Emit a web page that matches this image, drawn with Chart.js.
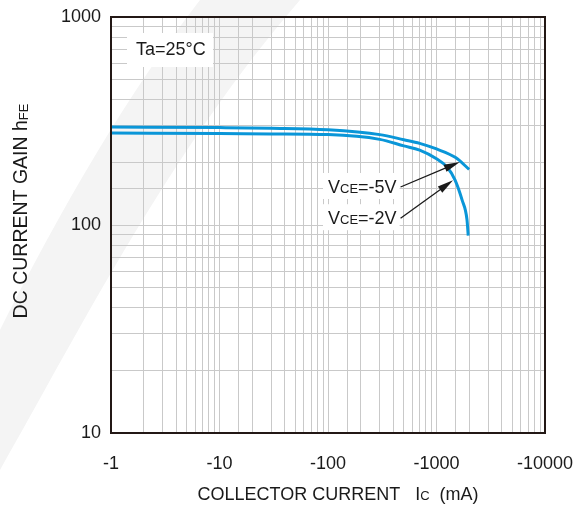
<!DOCTYPE html>
<html>
<head>
<meta charset="utf-8">
<script src="https://cdn.jsdelivr.net/npm/chart.js@4"></script>
<style>
  html, body { margin: 0; padding: 0; background: #fff; }
  #wrap { width: 579px; height: 506px; position: relative; }
</style>
</head>
<body>
<div id="wrap"><canvas id="hfeChart"></canvas></div>
<script>
// collector current magnitude (mA), axis shows them as negative
const ic5 = [1, 10, 30, 100, 300, 500, 700, 1000, 1500, 2000];
const hfe5 = [296, 294, 292, 287, 272, 257, 247, 232, 211, 185];
const ic2 = [1, 10, 30, 100, 300, 500, 700, 1000, 1250, 1480, 1720, 1910, 1960];
const hfe2 = [277, 275, 274, 272, 258, 240, 229, 208, 190, 165, 132, 106, 89];

const xDecades = [1, 10, 100, 1000, 10000];
const yDecades = [10, 100, 1000];

// label anchors in data units: [Ic, hFE] of text start, [Ic, hFE] of arrow tip
const labels = [
  { main: "V", sub: "CE", tail: "=-5V", at: [100, 154], tip: [1640, 201] },
  { main: "V", sub: "CE", tail: "=-2V", at: [100, 109], tip: [1420, 164] },
];

const ink = "#231815";
const blue = "#0a96d8";
const font = "'Liberation Sans', Arial, sans-serif";

const isDecade = (v, list) => list.some((d) => Math.abs(v - d) < d * 1e-6);

const pairs = (xs, ys) => xs.map((x, i) => ({ x: x, y: ys[i] }));

// draw runs of [text, size, dy] left to right
function runs(c, parts, x, y) {
  parts.forEach((p) => {
    c.font = p[1] + "px " + font;
    c.fillText(p[0], x, y + (p[2] || 0));
    x += c.measureText(p[0]).width;
  });
  return x;
}
function runsWidth(c, parts) {
  let w = 0;
  parts.forEach((p) => { c.font = p[1] + "px " + font; w += c.measureText(p[0]).width; });
  return w;
}

const decor = {
  id: "decor",
  beforeDraw(chart) {
    const c = chart.ctx;
    // faint watermark swoosh
    c.save();
    c.fillStyle = "#f4f4f4";
    c.beginPath();
    c.moveTo(200, 0);
    c.lineTo(300, 0);
    c.bezierCurveTo(170, 150, 80, 330, 0, 470);
    c.lineTo(0, 330);
    c.bezierCurveTo(60, 210, 130, 90, 200, 0);
    c.fill();
    c.restore();
  },
  afterDraw(chart) {
    const c = chart.ctx;
    const a = chart.chartArea;
    const xs = chart.scales.x;
    const ys = chart.scales.y;
    c.save();

    // frame
    c.strokeStyle = ink;
    c.lineWidth = 2;
    c.strokeRect(a.left, a.top, a.right - a.left, a.bottom - a.top);

    // Ta box
    c.fillStyle = "#fff";
    c.fillRect(a.left + 16, a.top + 16, 86, 34);
    c.fillStyle = "#1a1a1a";
    c.font = "18px " + font;
    c.textBaseline = "middle";
    c.textAlign = "left";
    c.fillText("Ta=25°C", a.left + 25, a.top + 33);

    // curve labels with arrows
    c.textBaseline = "alphabetic";
    labels.forEach((l) => {
      const tx = xs.getPixelForValue(l.at[0]);
      const ty = ys.getPixelForValue(l.at[1]);
      const parts = [[l.main, 18], [l.sub, 13], [l.tail, 18]];
      c.fillStyle = "#fff";
      c.fillRect(tx - 5, ty - 13, runsWidth(c, parts) + 8, 26);
      c.fillStyle = "#1a1a1a";
      const x = runs(c, parts, tx, ty + 7);

      const x0 = x + 4, y0 = ty + 1;
      const x1 = xs.getPixelForValue(l.tip[0]);
      const y1 = ys.getPixelForValue(l.tip[1]);
      const ang = Math.atan2(y1 - y0, x1 - x0);
      const cs = Math.cos(ang), sn = Math.sin(ang);
      c.strokeStyle = "#1a1a1a";
      c.lineWidth = 1.3;
      c.beginPath();
      c.moveTo(x0, y0);
      c.lineTo(x1 - 10 * cs, y1 - 10 * sn);
      c.stroke();
      c.beginPath();
      c.moveTo(x1, y1);
      c.lineTo(x1 - 16 * cs + 3.8 * sn, y1 - 16 * sn - 3.8 * cs);
      c.lineTo(x1 - 16 * cs - 3.8 * sn, y1 - 16 * sn + 3.8 * cs);
      c.closePath();
      c.fill();
    });

    // axis titles
    c.textBaseline = "middle";
    const xt = [["COLLECTOR CURRENT   I", 18], ["C", 13, 1], ["  (mA)", 18]];
    runs(c, xt, (a.left + a.right) / 2 - runsWidth(c, xt) / 2 + 10, 495);

    c.translate(22, (a.top + a.bottom) / 2 - 14);
    c.rotate(-Math.PI / 2);
    const yt = [["DC CURRENT GAIN h", 19.5], ["FE", 13, 2]];
    runs(c, yt, -runsWidth(c, yt) / 2, 0);
    c.restore();
  },
};

new Chart(document.getElementById("hfeChart"), {
  type: "line",
  data: {
    datasets: [
      {
        label: "VCE=-5V",
        data: pairs(ic5, hfe5),
        borderColor: blue,
        borderWidth: 3,
        pointRadius: 0,
        cubicInterpolationMode: "monotone",
      },
      {
        label: "VCE=-2V",
        data: pairs(ic2, hfe2),
        borderColor: blue,
        borderWidth: 3,
        pointRadius: 0,
        cubicInterpolationMode: "monotone",
      },
    ],
  },
  options: {
    responsive: true,
    maintainAspectRatio: false,
    animation: false,
    layout: { padding: { top: 17, right: 34, left: 0, bottom: 0 } },
    plugins: { legend: { display: false }, tooltip: { enabled: false } },
    scales: {
      x: {
        type: "logarithmic",
        min: 1,
        max: 10000,
        afterFit: (s) => { s.height = 73; s.paddingRight = 0; s.paddingLeft = 0; },
        grid: { color: "#c9c9c9", lineWidth: 1, drawTicks: false },
        border: { display: false },
        ticks: {
          autoSkip: false,
          maxRotation: 0,
          padding: 20,
          color: "#1a1a1a",
          font: { family: font, size: 18 },
          callback: (v) => (isDecade(v, xDecades) ? "-" + Math.round(v) : ""),
        },
      },
      y: {
        type: "logarithmic",
        min: 10,
        max: 1000,
        afterFit: (s) => { s.width = 111; s.paddingTop = 0; s.paddingBottom = 0; },
        grid: { color: "#c9c9c9", lineWidth: 1, drawTicks: false },
        border: { display: false },
        ticks: {
          autoSkip: false,
          padding: 10,
          color: "#1a1a1a",
          font: { family: font, size: 18 },
          callback: (v) => (isDecade(v, yDecades) ? String(Math.round(v)) : ""),
        },
      },
    },
  },
  plugins: [decor],
});
</script>
</body>
</html>
